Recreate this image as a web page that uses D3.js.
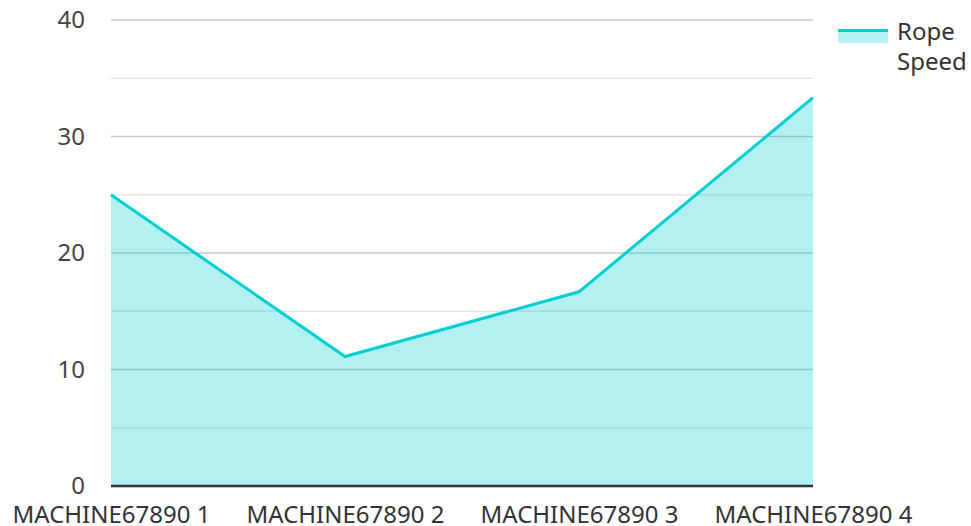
<!DOCTYPE html>
<html>
<head>
<meta charset="utf-8">
<script src="https://cdn.jsdelivr.net/npm/d3@7"></script>
<style>
  body { margin: 0; background: #fff; }
  text { font-family: "Noto Sans", sans-serif; }
</style>
</head>
<body>
<div class="chart"></div>
<script>
const width = 971;
const height = 526;
const margin = { top: 20, right: 158, bottom: 40, left: 111 };

const categories = ["MACHINE67890 1", "MACHINE67890 2", "MACHINE67890 3", "MACHINE67890 4"];
const ropeSpeed = [25, 11.11, 16.67, 33.33];
const yTicks = [0, 10, 20, 30, 40];
const yMinorTicks = [5, 15, 25, 35];
const seriesName = ["Rope", "Speed"];

const lineColor = "#00ced1";
const fontSize = 24;

var svg = d3
  .select(".chart")
  .append("svg")
  .attr("width", width)
  .attr("height", height);

let xScale = d3
  .scalePoint()
  .domain(categories)
  .range([margin.left, width - margin.right]);

let yScale = d3
  .scaleLinear()
  .domain([0, 40])
  .range([height - margin.bottom, margin.top]);

// grid lines
svg
  .append("g")
  .selectAll("line")
  .data(yMinorTicks)
  .enter()
  .append("line")
  .attr("x1", margin.left)
  .attr("x2", width - margin.right)
  .attr("y1", (d) => yScale(d))
  .attr("y2", (d) => yScale(d))
  .attr("stroke", "#e6e6e6")
  .attr("stroke-width", 1.5);

svg
  .append("g")
  .selectAll("line")
  .data(yTicks.filter((d) => d > 0))
  .enter()
  .append("line")
  .attr("x1", margin.left)
  .attr("x2", width - margin.right)
  .attr("y1", (d) => yScale(d))
  .attr("y2", (d) => yScale(d))
  .attr("stroke", "#c8c8c8")
  .attr("stroke-width", 1.5);

// area + line
let area = d3
  .area()
  .x((d, i) => xScale(categories[i]))
  .y0(yScale(0))
  .y1((d) => yScale(d));

let line = d3
  .line()
  .x((d, i) => xScale(categories[i]))
  .y((d) => yScale(d));

svg
  .append("path")
  .datum(ropeSpeed)
  .attr("d", area)
  .attr("fill", lineColor)
  .attr("fill-opacity", 0.3);

svg
  .append("path")
  .datum(ropeSpeed)
  .attr("d", line)
  .attr("fill", "none")
  .attr("stroke", lineColor)
  .attr("stroke-width", 3);

// axes
let yAxis = d3
  .axisLeft(yScale)
  .tickValues(yTicks)
  .tickSize(0)
  .tickPadding(26);
svg
  .append("g")
  .attr("transform", "translate(" + margin.left + ",0)")
  .call(yAxis)
  .call((g) => g.select(".domain").remove())
  .selectAll("text")
  .attr("font-family", "Noto Sans")
  .attr("font-size", fontSize)
  .attr("fill", "#444");

svg
  .append("line")
  .attr("x1", margin.left)
  .attr("x2", width - margin.right)
  .attr("y1", yScale(0))
  .attr("y2", yScale(0))
  .attr("stroke", "#333")
  .attr("stroke-width", 2.5);

let xAxis = d3.axisBottom(xScale).tickSize(0).tickPadding(20);
svg
  .append("g")
  .attr("transform", "translate(0," + yScale(0) + ")")
  .call(xAxis)
  .call((g) => g.select(".domain").remove())
  .selectAll("text")
  .attr("font-family", "Noto Sans")
  .attr("font-size", fontSize)
  .attr("fill", "#333");

// legend
let legend = svg.append("g").attr("transform", "translate(838,29)");
legend
  .append("rect")
  .attr("width", 50)
  .attr("height", 14)
  .attr("fill", lineColor)
  .attr("fill-opacity", 0.3);
legend
  .append("line")
  .attr("x1", 0)
  .attr("x2", 50)
  .attr("y1", 1.5)
  .attr("y2", 1.5)
  .attr("stroke", lineColor)
  .attr("stroke-width", 3);
legend
  .selectAll("text")
  .data(seriesName)
  .enter()
  .append("text")
  .attr("x", 59)
  .attr("y", (d, i) => 11 + i * 30)
  .attr("font-size", fontSize)
  .attr("fill", "#333")
  .text((d) => d);
</script>
</body>
</html>
